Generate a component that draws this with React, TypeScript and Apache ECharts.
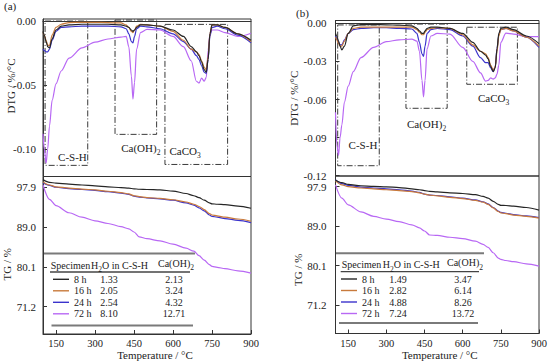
import React, { useEffect, useRef } from "react";
import * as echarts from "echarts";

const FONT = "Liberation Serif, Times New Roman, serif";
const SPECIMENS = ["8 h", "16 h", "24 h", "72 h"];
const COLORS = ["#262626", "#c87a3c", "#3b33cc", "#b868f4"];

const X_TICKS = [150, 300, 450, 600, 750, 900];
const DTG_TICKS_A = [0, -0.05, -0.1];
const DTG_TICKS_B = [0, -0.03, -0.06, -0.09, -0.12];
const TG_TICKS = [71.2, 80.1, 89.0, 97.9];

// DTG (%/°C)
const dtgT = [100, 105, 112, 118, 125, 135, 150, 170, 200, 250, 300, 350, 400, 420, 430, 440, 446, 452, 460, 475, 500, 550, 600, 640, 670, 690, 700, 710, 720, 728, 735, 742, 750, 770, 800, 850, 900];
const dtgA8 = [-0.008, -0.011, -0.016, -0.02, -0.021, -0.014, -0.007, -0.004, -0.003, -0.0025, -0.0025, -0.0025, -0.003, -0.004, -0.005, -0.007, -0.008, -0.007, -0.005, -0.003, -0.003, -0.004, -0.007, -0.012, -0.02, -0.024, -0.027, -0.032, -0.038, -0.04, -0.03, -0.01, -0.003, -0.003, -0.005, -0.01, -0.015];
const dtgA16 = [-0.009, -0.011, -0.015, -0.019, -0.019, -0.011, -0.005, -0.0025, -0.0012, -0.001, -0.001, -0.0012, -0.0015, -0.003, -0.005, -0.008, -0.009, -0.007, -0.004, -0.0025, -0.003, -0.004, -0.008, -0.015, -0.022, -0.024, -0.026, -0.031, -0.036, -0.038, -0.028, -0.01, -0.003, -0.003, -0.005, -0.01, -0.016];
const dtgA24 = [-0.022, -0.023, -0.024, -0.024, -0.022, -0.015, -0.008, -0.005, -0.0045, -0.004, -0.004, -0.004, -0.0045, -0.006, -0.01, -0.016, -0.017, -0.012, -0.006, -0.004, -0.0045, -0.006, -0.01, -0.016, -0.022, -0.027, -0.03, -0.035, -0.04, -0.041, -0.03, -0.012, -0.005, -0.004, -0.006, -0.011, -0.017];
const dtgA72 = [-0.088, -0.1, -0.111, -0.1, -0.082, -0.062, -0.049, -0.039, -0.029, -0.021, -0.0165, -0.014, -0.0125, -0.012, -0.02, -0.043, -0.061, -0.048, -0.022, -0.009, -0.0065, -0.007, -0.012, -0.02, -0.031, -0.047, -0.0485, -0.0445, -0.047, -0.044, -0.023, -0.01, -0.007, -0.007, -0.009, -0.012, -0.0095];
const dtgB8 = [-0.008, -0.01, -0.014, -0.018, -0.021, -0.018, -0.008, -0.002, -0.001, -0.001, -0.0012, -0.0015, -0.002, -0.004, -0.006, -0.008, -0.008, -0.006, -0.004, -0.003, -0.003, -0.004, -0.008, -0.015, -0.022, -0.025, -0.028, -0.034, -0.038, -0.035, -0.02, -0.008, -0.004, -0.003, -0.005, -0.01, -0.016];
const dtgB16 = [-0.011, -0.013, -0.016, -0.018, -0.018, -0.014, -0.008, -0.004, -0.003, -0.003, -0.003, -0.003, -0.003, -0.005, -0.007, -0.009, -0.009, -0.007, -0.005, -0.004, -0.0035, -0.004, -0.009, -0.017, -0.022, -0.024, -0.027, -0.033, -0.037, -0.034, -0.022, -0.01, -0.005, -0.004, -0.006, -0.011, -0.018];
const dtgB24 = [-0.01, -0.012, -0.015, -0.017, -0.017, -0.013, -0.008, -0.005, -0.004, -0.0035, -0.0035, -0.004, -0.0045, -0.008, -0.015, -0.024, -0.026, -0.018, -0.008, -0.005, -0.004, -0.005, -0.01, -0.018, -0.027, -0.031, -0.031, -0.035, -0.038, -0.034, -0.02, -0.009, -0.005, -0.004, -0.006, -0.011, -0.019];
const dtgB72 = [-0.07, -0.095, -0.104, -0.09, -0.08, -0.062, -0.0495, -0.038, -0.027, -0.019, -0.0145, -0.013, -0.0125, -0.014, -0.022, -0.045, -0.058, -0.045, -0.02, -0.01, -0.008, -0.0085, -0.019, -0.03, -0.039, -0.0455, -0.045, -0.043, -0.044, -0.043, -0.04, -0.033, -0.015, -0.0078, -0.0085, -0.0105, -0.0105];

// TG (%)
const tgT = [100, 125, 150, 200, 250, 300, 350, 400, 430, 450, 470, 500, 550, 600, 650, 680, 700, 720, 740, 750, 770, 800, 850, 900];
const tgA8 = [99.6, 99.0, 98.8, 98.6, 98.4, 98.2, 98.0, 97.8, 97.7, 97.55, 97.45, 97.4, 97.3, 97.05, 96.5, 96.0, 95.6, 95.0, 94.4, 94.2, 94.1, 94.0, 93.7, 93.2];
const tgA16 = [99.1, 98.4, 98.0, 97.7, 97.5, 97.3, 97.0, 96.7, 96.4, 96.0, 95.8, 95.6, 95.4, 95.1, 94.6, 94.1, 93.6, 92.9, 92.0, 91.7, 91.5, 91.2, 90.8, 90.3];
const tgA24 = [98.9, 98.3, 97.9, 97.6, 97.4, 97.2, 96.9, 96.6, 96.3, 95.9, 95.7, 95.5, 95.3, 95.0, 94.4, 93.9, 93.3, 92.6, 91.7, 91.4, 91.2, 90.9, 90.5, 90.0];
const tgA72 = [98.4, 95.2, 93.8, 92.2, 91.2, 90.4, 89.8, 89.1, 88.6, 87.9, 86.8, 86.4, 85.9, 85.2, 84.3, 83.6, 82.6, 81.6, 80.6, 80.2, 80.0, 79.7, 79.2, 78.7];
const tgB8 = [99.4, 98.8, 98.4, 98.1, 97.95, 97.85, 97.7, 97.4, 97.2, 97.0, 96.85, 96.7, 96.5, 96.35, 96.1, 95.7, 95.3, 94.6, 93.9, 93.7, 93.65, 93.5, 93.2, 92.6];
const tgB16 = [99.2, 98.3, 97.9, 97.6, 97.4, 97.2, 97.0, 96.8, 96.5, 96.2, 96.0, 95.8, 95.5, 95.2, 94.8, 94.4, 93.9, 93.1, 92.3, 92.0, 91.8, 91.5, 91.2, 90.8];
const tgB24 = [99.4, 98.6, 98.2, 97.8, 97.6, 97.4, 97.2, 96.9, 96.6, 96.2, 96.0, 95.9, 95.6, 95.3, 94.9, 94.5, 94.0, 93.2, 92.4, 92.1, 91.9, 91.6, 91.3, 90.9];
const tgB72 = [98.3, 95.3, 93.8, 92.2, 91.2, 90.6, 90.0, 89.3, 88.6, 87.9, 87.0, 86.9, 86.5, 86.2, 85.6, 84.9, 84.2, 83.0, 81.8, 81.5, 81.25, 81.0, 80.5, 80.0];

// table values
const h2oA = [1.33, 2.05, 2.54, 8.1];
const chA = [2.13, 3.24, 4.32, 12.71];
const h2oB = [1.49, 2.82, 4.88, 7.24];
const chB = [3.47, 6.14, 8.26, 13.72];

// decomposition regions [T1, v1, T2, v2]
const REGION_NAMES = ["C-S-H", "Ca(OH){s|2}", "CaCO{s|3}"];
const boxesA = [[108, 0.0, 272, -0.1127], [377, 0.0008, 537, -0.0885], [569, -0.0026, 810, -0.112]];
const boxesB = [[108.6, -0.0013, 272, -0.1121], [377, -0.0006, 539, -0.0669], [616, -0.0031, 815, -0.048]];

const RICH = { s: { fontSize: 7.5, fontFamily: FONT, color: "#222", padding: [9, 0, 0, 0] } };

const labelPosA = [
  { position: "insideBottom", offset: [6, 2] },
  { position: "bottom", offset: [5, 0] },
  { position: "insideBottomLeft", offset: [0, 0] },
];
const labelPosB = [
  { position: "insideBottom", offset: [4.5, -11] },
  { position: "bottom", offset: [0, 2] },
  { position: "bottom", offset: [1.5, 0] },
];

function buildMarkArea(boxes: number[][], pos: any[]) {
  return {
    silent: true,
    data: boxes.map((b, i) => [
      {
        xAxis: b[0],
        yAxis: b[1],
        itemStyle: { color: "rgba(0,0,0,0)", borderColor: "#3a3a3a", borderWidth: 1, borderType: [6, 2, 1, 2] },
        label: {
          show: true,
          formatter: REGION_NAMES[i],
          position: pos[i].position,
          offset: pos[i].offset,
          distance: 5,
          fontSize: 11,
          fontFamily: FONT,
          color: "#222",
          rich: RICH,
        },
      },
      { xAxis: b[2], yAxis: b[3] },
    ]),
  };
}

function line(name: string, color: string, xi: number, T: number[], vals: number[], extra: any = {}) {
  return {
    type: "line",
    name,
    xAxisIndex: xi,
    yAxisIndex: xi,
    data: T.map((t, i) => [t, vals[i]]),
    symbol: "none",
    showSymbol: false,
    smooth: 0.3,
    smoothMonotone: "x",
    lineStyle: { width: 1.2, color },
    itemStyle: { color },
    emphasis: { disabled: true },
    ...extra,
  };
}

const gridBoxes = [
  { left: 43, top: 19, width: 208, height: 157.5 },
  { left: 43, top: 176.5, width: 208, height: 157.5 },
  { left: 335.5, top: 20.5, width: 203.5, height: 155.5 },
  { left: 335.5, top: 176, width: 203.5, height: 157.5 },
];

function xAxis(gi: number, bottom: boolean, namePad: number, nameGap: number) {
  return {
    type: "value",
    gridIndex: gi,
    min: 100,
    max: 900,
    axisLine: { show: true, lineStyle: { color: "#333", width: 1 } },
    axisTick: bottom
      ? { show: true, inside: true, length: 4, customValues: X_TICKS, lineStyle: { color: "#333" } }
      : { show: false },
    axisLabel: bottom
      ? { show: true, customValues: X_TICKS, margin: 4, fontSize: 10.5, color: "#222", fontFamily: FONT }
      : { show: false },
    splitLine: { show: false },
    name: bottom ? "Temperature / °C" : "",
    nameLocation: "middle",
    nameGap,
    nameTextStyle: { fontSize: 11, fontFamily: FONT, color: "#222", padding: [0, 0, 0, namePad] },
  };
}

function yAxis(gi: number, min: number, max: number, ticks: number[], digits: number, name: string, pad: number[], nameGap: number, margin: number) {
  return {
    type: "value",
    gridIndex: gi,
    min,
    max,
    axisLine: { show: true, lineStyle: { color: "#333", width: 1 } },
    axisTick: { show: true, inside: true, length: 4, customValues: ticks, lineStyle: { color: "#333" } },
    axisLabel: {
      show: true,
      customValues: ticks,
      margin,
      fontSize: 11,
      color: "#222",
      fontFamily: FONT,
      formatter: (v: number) => v.toFixed(digits),
    },
    splitLine: { show: false },
    name,
    nameLocation: "middle",
    nameRotate: 90,
    nameGap,
    nameTextStyle: { fontSize: 11, fontFamily: FONT, color: "#222", padding: pad },
  };
}

function tableGraphics(cfg: any, h2o: number[], ch: number[]) {
  const els: any[] = [];
  const gray = "#7a7a7a";
  els.push({ type: "line", shape: { x1: cfg.topX1, y1: cfg.topY, x2: cfg.topX2, y2: cfg.topY }, style: { stroke: gray, lineWidth: 2 } });
  els.push({ type: "line", shape: { x1: cfg.midX1, y1: cfg.midY, x2: cfg.midX2, y2: cfg.midY }, style: { stroke: "#444", lineWidth: 1.3 } });
  els.push({ type: "line", shape: { x1: cfg.botX1, y1: cfg.botY, x2: cfg.botX2, y2: cfg.botY }, style: { stroke: gray, lineWidth: 2 } });
  const txt = (x: number, y: number, text: string, align: string) => ({
    type: "text",
    x,
    y,
    style: { text, fontSize: 10, fontFamily: FONT, fill: "#222", textAlign: align, textVerticalAlign: "middle", rich: RICH },
  });
  els.push(txt(cfg.hX[0], cfg.hY, "Specimen", "left"));
  els.push(txt(cfg.hX[1], cfg.hY, "H{s|2}O in C-S-H", "left"));
  els.push(txt(cfg.hX[2], cfg.hY - 2, "Ca(OH){s|2}", "left"));
  h2o.forEach((v, i) => {
    els.push(txt(cfg.c1, cfg.rows[i], v.toFixed(2), "center"));
    els.push(txt(cfg.c2, cfg.rows[i], ch[i].toFixed(2), "center"));
  });
  return els;
}

const tableA = {
  topX1: 43, topX2: 195, topY: 253.5,
  midX1: 50, midX2: 190, midY: 272,
  botX1: 51.5, botX2: 193, botY: 325.5,
  hX: [50.7, 91, 158], hY: 265,
  c1: 109, c2: 174,
  rows: [279.3, 290.8, 302.3, 313.8],
};
const tableB = {
  topX1: 336, topX2: 484, topY: 253.3,
  midX1: 340.7, midX2: 479, midY: 271.7,
  botX1: 339, botX2: 478, botY: 323,
  hX: [341.7, 382.7, 447], hY: 264.5,
  c1: 398, c2: 463,
  rows: [279, 290.5, 302, 313.5],
};

function legend(left: number, top: number) {
  return {
    data: SPECIMENS,
    orient: "vertical",
    left,
    top,
    icon: "rect",
    itemWidth: 16,
    itemHeight: 1.4,
    itemGap: 1.5,
    padding: 0,
    selectedMode: false,
    textStyle: { fontSize: 10, fontFamily: FONT, color: "#222", lineHeight: 10 },
  };
}

function buildOption() {
  const dtgA = [dtgA8, dtgA16, dtgA24, dtgA72];
  const dtgB = [dtgB8, dtgB16, dtgB24, dtgB72];
  const tgA = [tgA8, tgA16, tgA24, tgA72];
  const tgB = [tgB8, tgB16, tgB24, tgB72];
  const series: any[] = [];
  const order = [3, 2, 1, 0];
  order.forEach((k) => {
    const extraA = k === 0 ? { markArea: buildMarkArea(boxesA, labelPosA) } : {};
    const extraB = k === 0 ? { markArea: buildMarkArea(boxesB, labelPosB) } : {};
    series.push(line(SPECIMENS[k], COLORS[k], 0, dtgT, dtgA[k], extraA));
    series.push(line(SPECIMENS[k], COLORS[k], 1, tgT, tgA[k]));
    series.push(line(SPECIMENS[k], COLORS[k], 2, dtgT, dtgB[k], extraB));
    series.push(line(SPECIMENS[k], COLORS[k], 3, tgT, tgB[k]));
  });

  return {
    animation: false,
    backgroundColor: "#fff",
    grid: gridBoxes.map((g) => ({ ...g, show: true, borderColor: "#333", borderWidth: 1, backgroundColor: "transparent", containLabel: false, outerBoundsMode: "none" })),
    xAxis: [xAxis(0, false, 0, 0), xAxis(1, true, 16, 14), xAxis(2, false, 0, 0), xAxis(3, true, 5, 12.5)],
    yAxis: [
      yAxis(0, -0.1214, 0.0016, DTG_TICKS_A, 2, "", [0, 0, 0, 0], 21, 7),
      yAxis(1, 65.1, 100.3, TG_TICKS, 1, "TG / %", [0, 18, 0, 0], 21, 7),
      yAxis(2, -0.1202, 0.0022, DTG_TICKS_B, 2, "DTG / %/°C", [0, 0, 0, 0], 26.5, 9),
      yAxis(3, 64.8, 100.3, TG_TICKS, 1, "TG / %", [0, 30, 0, 0], 26.5, 9),
    ],
    legend: [legend(53, 274.3), legend(341, 274)],
    series,
    graphic: [
      { type: "text", x: 4, y: 6, style: { text: "(a)", fontSize: 11, fontFamily: FONT, fill: "#222", textVerticalAlign: "middle" } },
      { type: "text", x: 296, y: 13, style: { text: "(b)", fontSize: 11, fontFamily: FONT, fill: "#222", textVerticalAlign: "middle" } },
      {
        type: "text",
        x: 11,
        y: 86,
        rotation: Math.PI / 2,
        style: { text: "DTG / %/°C", fontSize: 11, fontFamily: FONT, fill: "#222", textAlign: "center", textVerticalAlign: "middle" },
      },
      ...tableGraphics(tableA, h2oA, chA),
      ...tableGraphics(tableB, h2oB, chB),
    ],
  };
}

export default function App() {
  const ref = useRef<HTMLDivElement>(null);
  useEffect(() => {
    if (!ref.current) return;
    const chart = echarts.init(ref.current, null, { renderer: "svg" });
    chart.setOption(buildOption() as any);
    return () => chart.dispose();
  }, []);
  return (
    <div
      ref={ref}
      style={{ position: "absolute", left: 0, top: 0, width: 550, height: 362, background: "#fff" }}
    />
  );
}
